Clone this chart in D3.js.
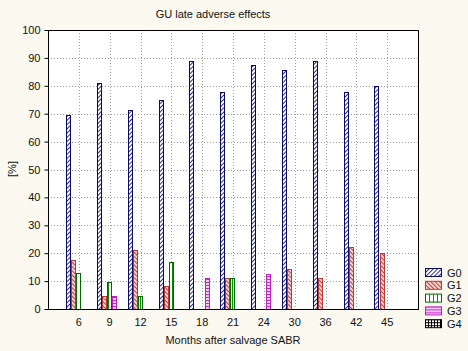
<!doctype html>
<html>
<head>
<style>
    body { margin: 0; background: #fcf9f0; }
    svg { display: block; }
    text { font-family: 'Liberation Sans', Arial, sans-serif; font-size: 11px; fill: #111; }
    .grid line { stroke: #a0a0a0; stroke-dasharray: 1 2; }
    .axis path { display: none; }
    .axis line { stroke: #000; }
</style>
<script src="https://d3js.org/d3.v7.min.js"></script>
</head>
<body>
<svg width="468" height="351"></svg>
<script>
    const months = ['6', '9', '12', '15', '18', '21', '24', '30', '36', '42', '45'];
    const seriesNames = ['G0', 'G1', 'G2', 'G3', 'G4'];
    const g0 = [69.6, 81.0, 71.4, 75.0, 88.9, 77.8, 87.5, 85.7, 88.9, 77.8, 80.0];
    const g1 = [17.4, 4.8, 21.0, 8.3, 0, 11.1, 0, 14.3, 11.1, 22.2, 20.0];
    const g2 = [13.0, 9.5, 4.8, 16.7, 0, 11.1, 0, 0, 0, 0, 0];
    const g3 = [0, 4.8, 0, 0, 11.1, 0, 12.5, 0, 0, 0, 0];
    const g4 = [0, 0, 0, 0, 0, 0, 0, 0, 0, 0, 0];
    const yTicks = [0, 10, 20, 30, 40, 50, 60, 70, 80, 90, 100];

    const values = [g0, g1, g2, g3, g4];

    // pattern look per series
    const styles = [
        { stroke: '#0a0a60', bg: '#ffffff', line: '#2a2a9a', rot: 45, kind: 'lines', size: 3 },
        { stroke: '#b83838', bg: '#fbd6cc', line: '#c83c3c', rot: -45, kind: 'lines', size: 3 },
        { stroke: '#006a00', bg: '#ffffff', line: '#009000', rot: 0, kind: 'lines', size: 4 },
        { stroke: '#c020c0', bg: '#f6d0f6', line: '#c828c8', rot: 90, kind: 'lines', size: 3 },
        { stroke: '#000000', bg: '#ffffff', line: '#000000', rot: 0, kind: 'grid', size: 3 }
    ];

    const svg = d3.select('svg');
    const mLeft = 48, mRight = 418, mTop = 30, mBottom = 309;

    const defs = svg.append('defs');
    styles.forEach((s, i) => {
        const p = defs.append('pattern')
            .attr('id', 'pat' + i)
            .attr('patternUnits', 'userSpaceOnUse')
            .attr('width', s.size)
            .attr('height', s.size)
            .attr('patternTransform', `rotate(${s.rot})`);
        p.append('rect').attr('width', s.size).attr('height', s.size).attr('fill', s.bg);
        p.append('line')
            .attr('x1', 0.5).attr('y1', 0).attr('x2', 0.5).attr('y2', s.size)
            .attr('stroke', s.line).attr('stroke-width', 1);
        if (s.kind === 'grid') {
            p.append('line')
                .attr('x1', 0).attr('y1', 0.5).attr('x2', s.size).attr('y2', 0.5)
                .attr('stroke', s.line).attr('stroke-width', 1);
        }
    });

    svg.append('rect')
        .attr('x', mLeft).attr('y', mTop)
        .attr('width', mRight - mLeft).attr('height', mBottom - mTop)
        .attr('fill', '#fff');

    const x = d3.scaleLinear().domain([0, months.length + 1]).range([mLeft, mRight]);
    const y = d3.scaleLinear().domain([0, 100]).range([mBottom, mTop]);
    const inner = d3.scaleBand().domain(seriesNames).range([-12.75, 12.75]);

    // grid
    svg.append('g').attr('class', 'grid')
        .selectAll('line').data(yTicks.slice(1, -1)).join('line')
        .attr('x1', mLeft).attr('x2', mRight)
        .attr('y1', d => Math.round(y(d)) + 0.5).attr('y2', d => Math.round(y(d)) + 0.5);
    svg.append('g').attr('class', 'grid')
        .selectAll('line').data(months).join('line')
        .attr('x1', (d, i) => Math.round(x(i + 1)) + 0.5).attr('x2', (d, i) => Math.round(x(i + 1)) + 0.5)
        .attr('y1', mTop).attr('y2', mBottom);

    // bars
    values.forEach((vals, si) => {
        svg.append('g')
            .selectAll('rect')
            .data(vals.map((v, i) => ({ v, i })).filter(d => d.v > 0))
            .join('rect')
            .attr('x', d => Math.round(x(d.i + 1) + inner(seriesNames[si])) + 0.5)
            .attr('y', d => Math.round(y(d.v)) + 0.5)
            .attr('width', Math.round(inner.bandwidth()) - 1)
            .attr('height', d => Math.round(mBottom - y(d.v)))
            .attr('fill', `url(#pat${si})`)
            .attr('stroke', styles[si].stroke)
            .attr('stroke-width', 1);
    });

    // frame
    svg.append('rect')
        .attr('x', mLeft + 0.5).attr('y', mTop + 0.5)
        .attr('width', mRight - mLeft).attr('height', mBottom - mTop)
        .attr('fill', 'none').attr('stroke', '#000');

    // axes
    svg.append('g').attr('class', 'axis')
        .attr('transform', `translate(${mLeft + 0.5},0)`)
        .call(d3.axisLeft(y).tickValues(yTicks).tickSize(4).tickPadding(4))
        .selectAll('text').style('font-size', '11px').style('font-family', null);

    svg.append('g').attr('class', 'axis')
        .selectAll('text').data(months).join('text')
        .attr('x', (d, i) => x(i + 1))
        .attr('y', 326)
        .attr('text-anchor', 'middle')
        .text(d => d);

    svg.append('text')
        .attr('x', 213).attr('y', 18)
        .attr('text-anchor', 'middle')
        .text('GU late adverse effects');

    svg.append('text')
        .attr('x', 233).attr('y', 344)
        .attr('text-anchor', 'middle')
        .text('Months after salvage SABR');

    svg.append('text')
        .attr('transform', 'translate(16,169) rotate(-90)')
        .attr('text-anchor', 'middle')
        .text('[%]');

    // legend
    const leg = svg.append('g').attr('transform', 'translate(425,268)');
    seriesNames.forEach((name, i) => {
        const row = leg.append('g').attr('transform', `translate(0,${i * 12.8})`);
        row.append('rect')
            .attr('x', 0.5).attr('y', 0.5)
            .attr('width', 16).attr('height', 8)
            .attr('fill', `url(#pat${i})`)
            .attr('stroke', styles[i].stroke);
        row.append('text')
            .attr('x', 22).attr('y', 8.5)
            .text(name);
    });
</script>
</body>
</html>
